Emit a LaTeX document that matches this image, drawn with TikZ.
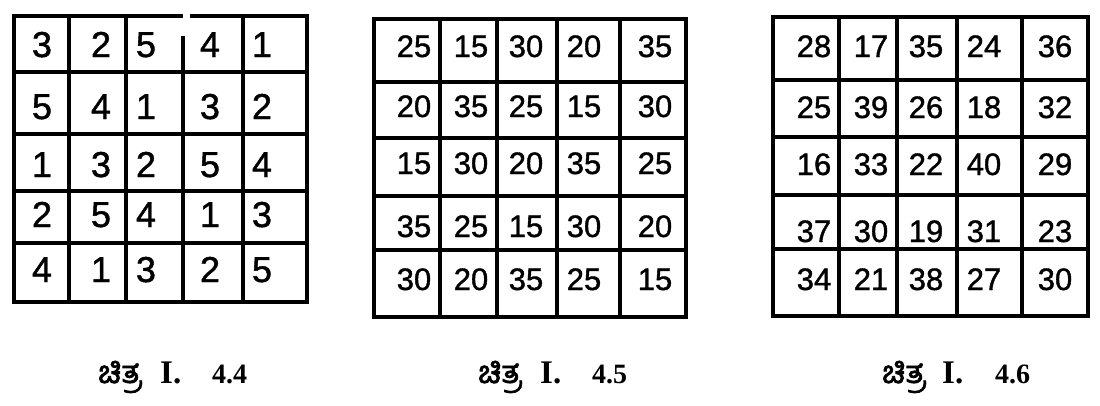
\documentclass[tikz,border=0pt]{standalone}
\usepackage{fontspec}
\setmainfont{Liberation Serif}
\newfontfamily\numfont[FakeBold=1.2]{Liberation Sans}
\newfontfamily\kn[Script=Kannada,FakeBold=2.5]{Hind Mysuru}
\begin{document}
\begin{tikzpicture}[x=1pt,y=-1pt,
  gridline/.style={line width=3.4pt, line cap=rect},
  numA/.style={anchor=base, inner sep=0pt, font=\numfont\fontsize{36}{36}\selectfont},
  numB/.style={anchor=base, inner sep=0pt, font=\numfont\fontsize{31}{31}\selectfont},
  capk/.style={anchor=base west, inner sep=4pt, font=\kn\fontsize{31}{31}\selectfont},
  capi/.style={anchor=base west, inner sep=0pt, font=\bfseries\fontsize{33}{33}\selectfont},
  capn/.style={anchor=base west, inner sep=0pt, font=\bfseries\fontsize{28}{28}\selectfont}]
\useasboundingbox (0,0) rectangle (1100,405);
\fill[white] (0,0) rectangle (1100,405);

% grid 1
\draw[gridline] (14,16) -- (181,16);
\draw[gridline] (192,16) -- (307,16);
\draw[gridline] (14,16) -- (14,302) -- (307,302) -- (307,16);
\foreach \xx in {69,126,243} \draw[gridline] (\xx,16) -- (\xx,302);
\draw[gridline] (183,38) -- (183,302);
\foreach \yy in {72,134,191,243} \draw[gridline] (14,\yy) -- (307,\yy);

% grid 2
\draw[gridline] (374,19) rectangle (686,317);
\foreach \xx in {440,497,557,620} \draw[gridline] (\xx,19) -- (\xx,317);
\foreach \yy in {82,138,196,250} \draw[gridline] (374,\yy) -- (686,\yy);

% grid 3
\draw[gridline] (773,17) rectangle (1088,316);
\foreach \xx in {839,897,957,1022} \draw[gridline] (\xx,17) -- (\xx,316);
\foreach \yy in {80,137,195,249} \draw[gridline] (773,\yy) -- (1088,\yy);

% numbers grid 1
\foreach \r/\yy/\vals in {1/57/{3,2,5,4,1},2/119/{5,4,1,3,2},3/177/{1,3,2,5,4},4/227/{2,5,4,1,3},5/282/{4,1,3,2,5}}{
  \foreach \v [count=\c] in \vals {
    \pgfmathsetmacro\xx{{42,101,146,210,262}[\c-1]}
    \node[numA] (a\r\c) at (\xx,\yy) {\v};
  }
}
% numbers grid 2
\foreach \r/\yy/\vals in {1/57/{25,15,30,20,35},2/117/{20,35,25,15,30},3/174/{15,30,20,35,25},4/237/{35,25,15,30,20},5/290/{30,20,35,25,15}}{
  \foreach \v [count=\c] in \vals {
    \pgfmathsetmacro\xx{{414,471,526,584,655}[\c-1]}
    \node[numB] (b\r\c) at (\xx,\yy) {\v};
  }
}
% numbers grid 3
\foreach \r/\yy/\vals in {1/57/{28,17,35,24,36},2/118/{25,39,26,18,32},3/175/{16,33,22,40,29},4/242/{37,30,19,31,23},5/290/{34,21,38,27,30}}{
  \foreach \v [count=\c] in \vals {
    \pgfmathsetmacro\xx{{814,871,926,984,1055}[\c-1]}
    \node[numB] (c\r\c) at (\xx,\yy) {\v};
  }
}

% captions
\node[capk] (k1) at (94,383) {ಚಿತ್ರ};
\node[capi] (i1) at (160,383) {I.};
\node[capn] (n1) at (212,383) {4.4};
\node[capk] (k2) at (474,383) {ಚಿತ್ರ};
\node[capi] (i2) at (540,383) {I.};
\node[capn] (n2) at (592,383) {4.5};
\node[capk] (k3) at (878,383) {ಚಿತ್ರ};
\node[capi] (i3) at (942,383) {I.};
\node[capn] (n3) at (995,383) {4.6};
\end{tikzpicture}
\end{document}
